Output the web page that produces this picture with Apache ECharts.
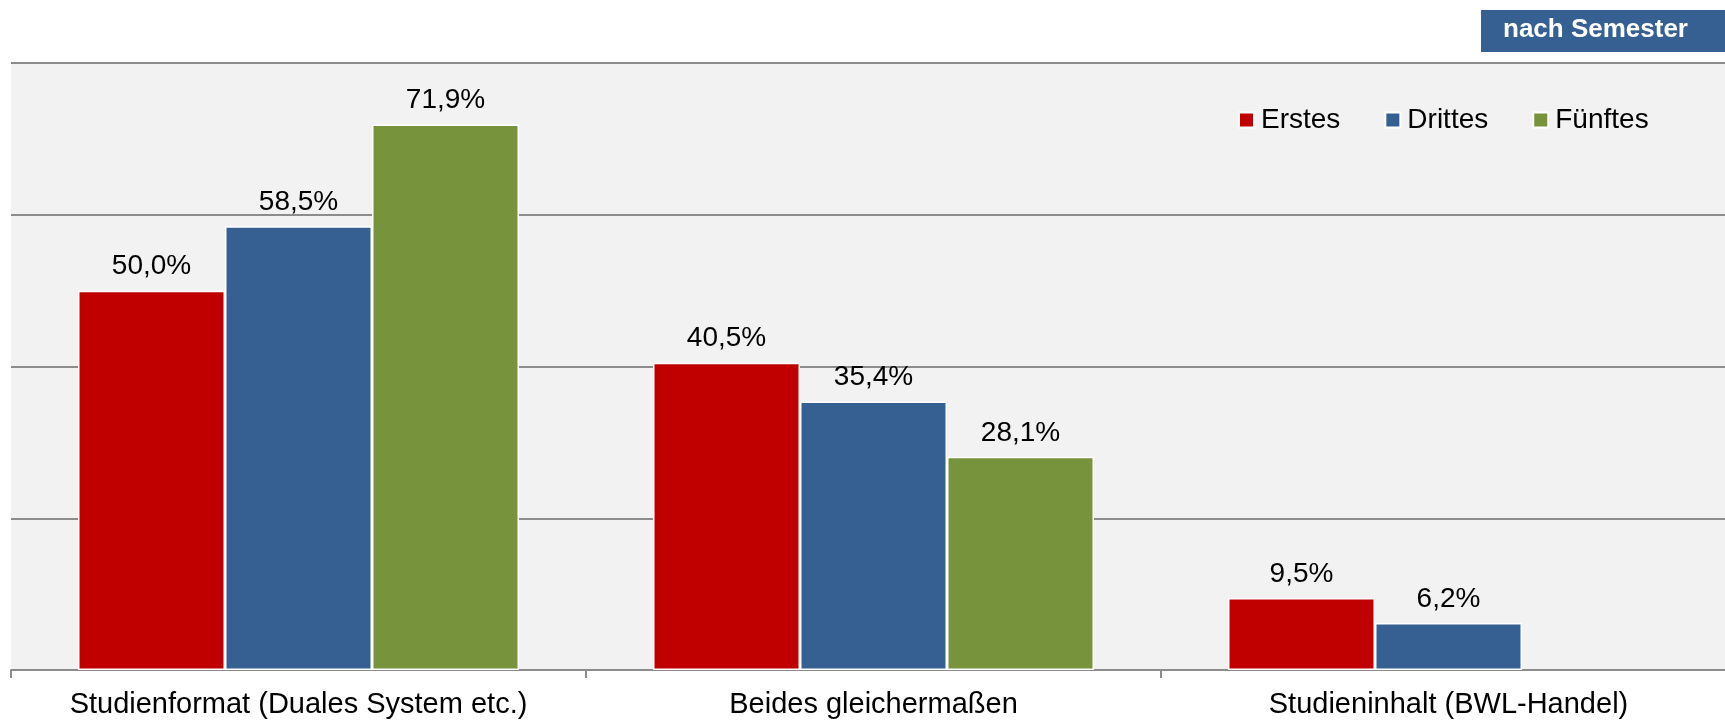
<!DOCTYPE html>
<html><head><meta charset="utf-8">
<script src="https://cdn.jsdelivr.net/npm/echarts@6/dist/echarts.min.js"></script>
<style>html,body{margin:0;padding:0;background:#fff}#c{width:1725px;height:721px}</style>
</head><body><div id="c"></div>
<script>
const categories = ['Studienformat (Duales System etc.)', 'Beides gleichermaßen', 'Studieninhalt (BWL-Handel)'];
const seriesNames = ['Erstes', 'Drittes', 'Fünftes'];
const erstes = [50.0, 40.5, 9.5];
const drittes = [58.5, 35.4, 6.2];
const fuenftes = [71.9, 28.1, null];
const colors = ['#c00000', '#376092', '#77933c'];
const title = 'nach Semester';

const font = 'Liberation Sans, Arial, sans-serif';
const chart = echarts.init(document.getElementById('c'));
const values = [erstes, drittes, fuenftes];
chart.setOption({
  animation: false,
  graphic: [
    { type: 'rect', shape: { x: 1481, y: 10, width: 260, height: 42 }, style: { fill: '#376092' } },
    { type: 'text', left: 1503, top: 17, style: { text: title, fill: '#fff', font: 'bold 26px ' + font } }
  ],
  legend: {
    left: 1233, top: 101, itemWidth: 15, itemHeight: 15, itemGap: 44, icon: 'rect',
    textStyle: { fontSize: 28, fontFamily: font, color: '#000', padding: [0, 0, 0, 2] },
    data: seriesNames
  },
  grid: { left: 11, top: 63, right: -11, bottom: 51, outerBoundsMode: 'none', containLabel: false, show: true, backgroundColor: '#f2f2f2', borderWidth: 0 },
  xAxis: {
    type: 'category', data: categories,
    axisLine: { lineStyle: { color: '#8c8c8c', width: 2 } },
    axisTick: { show: true, interval: 0, length: 8, lineStyle: { color: '#8c8c8c', width: 2 } },
    axisLabel: { interval: 0, fontSize: 29, fontFamily: font, color: '#000', margin: 20 }
  },
  yAxis: {
    type: 'value', min: 0, max: 80, interval: 20,
    axisLabel: { show: false }, axisLine: { show: false }, axisTick: { show: false },
    splitLine: { lineStyle: { color: '#8c8c8c', width: 2 } }
  },
  series: values.map((v, i) => ({
    name: seriesNames[i], type: 'bar', data: v, barWidth: 147, barGap: '0%',
    itemStyle: { color: colors[i], borderColor: '#fff', borderWidth: 1.5 },
    label: {
      show: true, position: 'top', distance: 10, fontSize: 28, fontFamily: font, color: '#000',
      formatter: p => p.value == null ? '' : p.value.toFixed(1).replace('.', ',') + '%'
    }
  }))
});
</script></body></html>
